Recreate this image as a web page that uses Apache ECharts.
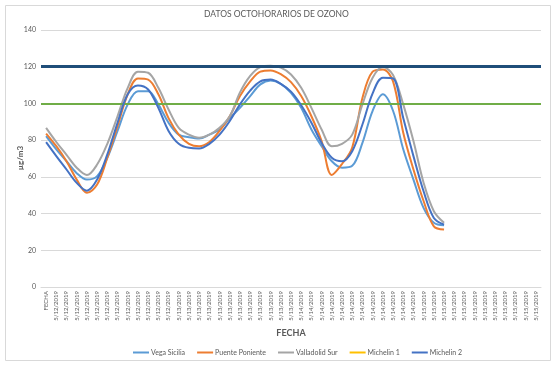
<!DOCTYPE html>
<html>
<head>
<meta charset="utf-8">
<script src="https://cdn.jsdelivr.net/npm/echarts@6/dist/echarts.min.js"></script>
<style>html,body{margin:0;padding:0;background:#fff;}#c{width:556px;height:366px;}</style>
</head>
<body>
<div id="c"></div>
<script>
const categories = ['FECHA']
  .concat(Array(12).fill('5/12/2019'))
  .concat(Array(12).fill('5/13/2019'))
  .concat(Array(12).fill('5/14/2019'))
  .concat(Array(12).fill('5/15/2019'));

const vegaSicilia = [82.2, 75, 68.5, 62, 58.5, 60.4, 70.4, 85, 99.5, 106.7, 106.7, 99.5, 89.5, 83, 81.6, 80.9, 83, 85.8, 92, 97.6, 104, 110.4, 112.5, 110.7, 105.8, 97.6, 85.8, 76.7, 68.5, 65, 66, 78.5, 96, 105, 96, 75, 58.5, 43, 35, 33.6];
const puentePoniente = [83.6, 76.7, 68.5, 58.5, 51.3, 55.8, 70.4, 87.6, 105, 113.6, 113, 105, 92, 83, 78, 76.7, 79, 85, 93, 104, 112, 117.3, 118, 116, 111.6, 104, 93, 79.5, 61, 67, 76, 103, 117.3, 118.5, 112, 84, 64, 46.7, 33, 31.3];
const valladolidSur = [86.7, 79, 72, 65, 61, 66.7, 78, 93, 108.5, 117.3, 116.7, 108.5, 96.7, 86.7, 83, 81.3, 83, 86.7, 93, 106, 115, 119.8, 120.5, 119.5, 115.8, 108.5, 97.6, 85.8, 76.7, 78, 83, 99.5, 114, 119.8, 115.5, 99.5, 79.5, 56.7, 41.3, 35];
const michelin1 = [];
const michelin2 = [78.9, 71.3, 64, 56.7, 52.5, 58.5, 72.2, 89.5, 105, 109.8, 107.6, 97.6, 85, 78, 75.8, 75.5, 78, 83, 90.4, 99.5, 107, 112, 113, 110.7, 106.4, 99, 89.5, 78.5, 70.4, 68.5, 74, 88.5, 105.5, 114, 113.6, 92, 71.3, 52, 37.6, 34];
const thresholds = [120, 100];

const seriesNames = ['Vega Sicilia', 'Puente Poniente', 'Valladolid Sur', 'Michelin 1', 'Michelin 2'];
const seriesData = [vegaSicilia, puentePoniente, valladolidSur, michelin1, michelin2];
const colors = ['#5B9BD5', '#ED7D31', '#A5A5A5', '#FFC000', '#4472C4'];
const FONT = 'Lato';

const chart = echarts.init(document.getElementById('c'), null, {renderer: 'canvas'});
const series = seriesNames.map((n, k) => ({
  name: n,
  type: 'line',
  data: seriesData[k],
  showSymbol: false,
  symbol: 'none',
  smooth: 0.35,
  lineStyle: {color: colors[k], width: 2},
  itemStyle: {color: colors[k]},
  z: 2 + k,
  silent: true
}));
series.push({
  name: 'limits',
  type: 'line',
  data: [],
  z: 10,
  silent: true,
  markLine: {
    silent: true,
    symbol: ['none', 'none'],
    label: {show: false},
    animation: false,
    data: [
      {yAxis: thresholds[0], lineStyle: {color: '#1F4E79', width: 3, type: 'solid'}},
      {yAxis: thresholds[1], lineStyle: {color: '#70AD47', width: 2, type: 'solid'}}
    ]
  }
});

chart.setOption({
  animation: false,
  backgroundColor: '#fff',
  textStyle: {fontFamily: FONT},
  graphic: [{
    type: 'rect', left: 3, top: 3,
    shape: {width: 545, height: 355},
    style: {fill: 'none', stroke: '#D9D9D9', lineWidth: 1}, silent: true
  }, {
    type: 'text', left: 204, top: 10, silent: true,
    style: {text: 'DATOS OCTOHORARIOS DE OZONO', fill: '#595959', fontFamily: FONT, fontSize: 8.5}
  }, {
    type: 'text', x: 20, y: 158, rotation: Math.PI / 2, silent: true,
    style: {text: 'µg/m3', fill: '#595959', fontFamily: FONT, fontSize: 8, fontWeight: 'bold', align: 'center', verticalAlign: 'middle'}
  }],
  legend: {
    data: seriesNames,
    left: 128, top: 344,
    icon: 'rect', itemWidth: 16, itemHeight: 2, itemGap: 12,
    textStyle: {fontFamily: FONT, fontSize: 7, color: '#595959', padding: [0, 0, 0, -3]}
  },
  grid: {left: 41, right: 15, top: 30, bottom: 79, containLabel: false},
  xAxis: {
    type: 'category',
    data: categories,
    boundaryGap: true,
    name: 'FECHA',
    nameLocation: 'middle',
    nameGap: 40,
    nameTextStyle: {fontFamily: FONT, fontSize: 9, fontWeight: 'bold', color: '#595959'},
    axisLine: {show: true, lineStyle: {color: '#D9D9D9'}},
    axisTick: {show: false},
    axisLabel: {interval: 0, rotate: 90, fontSize: 6, color: '#595959', margin: 4, fontFamily: FONT}
  },
  yAxis: {
    type: 'value',
    min: 0, max: 140, interval: 20,
    axisLine: {show: false},
    axisTick: {show: false},
    axisLabel: {fontSize: 7, color: '#595959', margin: 5, fontFamily: FONT},
    splitLine: {lineStyle: {color: '#D9D9D9', width: 1}}
  },
  series: series
});
</script>
</body>
</html>
